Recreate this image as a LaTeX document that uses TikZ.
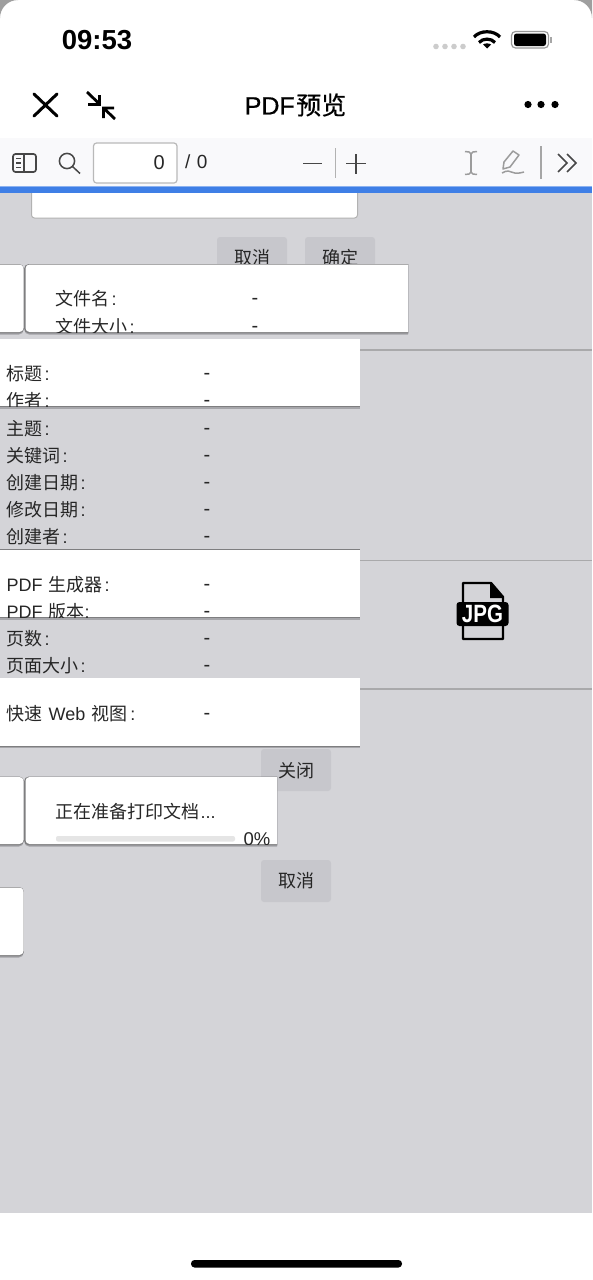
\documentclass[tikz,border=0pt]{standalone}
\usepackage{fontspec}
\setmainfont{Liberation Sans}
\newfontfamily\cjk{Noto Sans CJK SC}
\newfontfamily\cjkmed[FakeBold=0.5]{Noto Sans CJK SC}
\newfontfamily\latmed[FakeBold=0.5]{Liberation Sans}
\usepackage{tikz}
\usetikzlibrary{positioning,calc}
\usepackage{xcolor}
\definecolor{pagegray}{HTML}{D4D4D8}
\definecolor{btngray}{HTML}{C7C7CC}
\definecolor{edgegray}{HTML}{7E7E80}
\definecolor{softedge}{HTML}{A6A6AA}
\definecolor{ruleline}{HTML}{A9A9AB}
\definecolor{barblue}{HTML}{3F7FE6}
\definecolor{toolbg}{HTML}{F9F9FB}
\definecolor{inkdark}{HTML}{262626}
\definecolor{icongray}{HTML}{9C9C9C}
\newcommand{\colonmark}{\hspace{2pt}:}

\begin{document}
\begin{tikzpicture}[x=1pt, y=-1pt,
  rowtext/.style={anchor=west, inner sep=0pt, text=inkdark, font=\fontsize{18}{22}\selectfont},
  midtext/.style={inner sep=0pt, text=inkdark, font=\fontsize{18}{22}\selectfont},
  dashtext/.style={inner sep=0pt, yshift=-3.5pt, text=inkdark, font=\fontsize{20}{22}\selectfont},
  card/.style={fill=white,
    preaction={fill=softedge, draw=softedge, line width=1pt, transform canvas={xshift=-0.5pt, yshift=-2pt}},
    preaction={fill=edgegray, draw=edgegray, line width=1.8pt, transform canvas={xshift=-0.5pt, yshift=-0.4pt}}},
  btn/.style={fill=btngray, rounded corners=3pt},
  ruleln/.style={draw=ruleline, line width=1.2pt},
  darkicon/.style={draw=inkdark, line width=1.7pt},
  grayicon/.style={draw=icongray, line width=1.5pt}]

\useasboundingbox (0,0) rectangle (592,1280);

% Page layers
\fill[white] (0,0) rectangle (592,1280);
\fill[gray!75] (0,0) -- (18,0) .. controls (8,0) and (0,8) .. (0,18) -- cycle;
\fill[gray!75] (592,0) -- (574,0) .. controls (584,0) and (592,8) .. (592,18) -- cycle;
\fill[toolbg] (0,138) rectangle (592,187);
\fill[pagegray] (0,193) rectangle (592,1213);
\draw[fill=white, draw=gray!60, line width=1pt, rounded corners=3pt] (31.5,189) rectangle (357.5,218);
\fill[barblue!60!white] (0,186) rectangle (592,188);
\fill[barblue] (0,187) rectangle (592,193);

% Status bar
\node[inner sep=0pt, font=\fontsize{27.5}{30}\selectfont, text=black] (clock) at (97,40.2) {\textbf{09:53}};
\fill[gray!40] (436,46.5) circle (2.8pt) (445,46.5) circle (2.8pt) (454,46.5) circle (2.8pt) (463,46.5) circle (2.8pt);
\draw[black, line width=3.2pt] (474,37) .. controls (480,30) and (494,30) .. (500,37);
\draw[black, line width=3.2pt] (479,42.5) .. controls (483,38) and (491,38) .. (495,42.5);
\fill[black] (483,44.5) .. controls (485,43) and (489,43) .. (491,44.5) -- (487,48.5) -- cycle;
\draw[gray!80, line width=1.2pt, rounded corners=4pt] (511.5,31.5) rectangle (548.5,48);
\fill[black, rounded corners=2.5pt] (514,33.5) rectangle (546,46);
\fill[gray!70] (550,37) rectangle (552,42.5);

% Title bar
\draw[black, line width=3pt, line cap=round] (34,94) -- (57,116) (57,94) -- (34,116);
\draw[black, line width=2.8pt] (87,92) -- (99.5,104) (99.5,95) -- (99.5,104.5) -- (88,104.5);
\draw[black, line width=2.8pt] (115,119) -- (104,108.5) (103.5,118) -- (103.5,108) -- (114,108);
\node[inner sep=0pt, font=\fontsize{25}{30}\selectfont, text=black] (title) at (295.5,105) {{\latmed PDF}\hspace{1.5pt}{\cjkmed 预览}};
\fill[black] (528,104.5) circle (3.6pt) (541,104.5) circle (3.6pt) (555,104.5) circle (3.6pt);

% Toolbar
\draw[darkicon, rounded corners=2.5pt, draw=inkdark!85] (13,154) rectangle (36,172);
\draw[draw=inkdark!85, line width=1.5pt] (24,154) -- (24,172) (16,158.5) -- (21,158.5) (16,163) -- (21,163) (16,167.5) -- (21,167.5);
\draw[draw=inkdark!85, line width=1.5pt] (67,161) circle (7.6pt) (72.5,166.5) -- (80,173.5);
\draw[draw=gray!55, fill=white, line width=1.2pt, rounded corners=3pt] (93.5,143) rectangle (177,183);
\node[anchor=east, inner sep=0pt, text=inkdark, font=\fontsize{20}{24}\selectfont] (pagenum) at (165,163) {0};
\node[anchor=west, inner sep=0pt, text=inkdark, font=\fontsize{19}{22}\selectfont] (pagetotal) at (185,162) {/\hspace{1pt} 0};
\draw[draw=inkdark!85, line width=1.8pt] (303,163.5) -- (322,163.5) (346,163.5) -- (366,163.5) (356,154) -- (356,174);
\draw[draw=gray!60, line width=1pt] (335,148) -- (335,178);
\draw[grayicon] (471,153) -- (471,173);
\draw[grayicon] (465,151.5) .. controls (468,151.5) and (471,152) .. (471,154) .. controls (471,152) and (474,151.5) .. (477,151.5);
\draw[grayicon] (465,174.5) .. controls (468,174.5) and (471,174) .. (471,172) .. controls (471,174) and (474,174.5) .. (477,174.5);
\draw[grayicon, line join=round] (503,169) -- (504,162) -- (513,151) -- (519,155) -- (510,167) -- cycle;
\draw[grayicon] (502,173) .. controls (507,170) and (510,171) .. (513,172.5) .. controls (516,174) and (520,173) .. (524,172);
\draw[draw=gray!70, line width=1.5pt] (541,146) -- (541,179);
\draw[darkicon, draw=inkdark!85] (558,154) -- (567,163) -- (558,172) (567,154) -- (576,163) -- (567,172);

% Buttons behind
\fill[btn] (217,237) rectangle (287,279);
\fill[btn] (305,237) rectangle (375,279);
\node[midtext] (cancelone) at (252,258) {\cjk 取消};
\node[midtext] (okone) at (340,258) {\cjk 确定};
\fill[btn] (261,749) rectangle (331,791);
\node[midtext] (closeone) at (296,770.5) {\cjk 关闭};
\fill[btn] (261,860) rectangle (331,902);
\node[midtext] (canceltwo) at (296,881) {\cjk 取消};

% Rules
\draw[ruleln] (0,350) -- (592,350);
\draw[ruleln] (0,560.5) -- (592,560.5);
\draw[ruleln] (0,689) -- (592,689);

% Property rows
\node[rowtext] (subject) at (6.5,429) {{\cjk 主题}\colonmark};
\node[dashtext] (subjectval) at (207,428) {-};
\node[rowtext] (keywords) at (6.5,456) {{\cjk 关键词}\colonmark};
\node[dashtext] (keywordsval) at (207,455) {-};
\node[rowtext] (created) at (6.5,483) {{\cjk 创建日期}\colonmark};
\node[dashtext] (createdval) at (207,482) {-};
\node[rowtext] (modified) at (6.5,510) {{\cjk 修改日期}\colonmark};
\node[dashtext] (modifiedval) at (207,509) {-};
\node[rowtext] (creator) at (6.5,537) {{\cjk 创建者}\colonmark};
\node[dashtext] (creatorval) at (207,536) {-};
\node[rowtext] (pages) at (6.5,639) {{\cjk 页数}\colonmark};
\node[dashtext] (pagesval) at (207,638) {-};
\node[rowtext] (pagesize) at (6.5,666) {{\cjk 页面大小}\colonmark};
\node[dashtext] (pagesizeval) at (207,665) {-};

% File card
\path[card] (0,264.5) [rounded corners=4pt] -- (23.5,264.5) -- (23.5,332) [sharp corners] -- (0,332) -- cycle;
\path[card] (408,264.5) [rounded corners=4pt] -- (25.5,264.5) -- (25.5,332) [sharp corners] -- (408,332) -- cycle;
\begin{scope}
\clip (25,264) rectangle (408,332);
\node[rowtext] (filename) at (55.5,299) {{\cjk 文件名}\colonmark};
\node[dashtext] (filenameval) at (255,298) {-};
\node[rowtext] (filesize) at (55.5,327) {{\cjk 文件大小}\colonmark};
\node[dashtext] (filesizeval) at (255,326) {-};
\end{scope}

% Title card
\path[card] (0,339) rectangle (360,406);
\begin{scope}
\clip (0,339) rectangle (360,406);
\node[rowtext] (doctitle) at (6.5,374) {{\cjk 标题}\colonmark};
\node[dashtext] (doctitleval) at (207,373) {-};
\node[rowtext] (author) at (6.5,401) {{\cjk 作者}\colonmark};
\node[dashtext] (authorval) at (207,400) {-};
\end{scope}

% Producer card
\path[card] (0,549.5) rectangle (360,617);
\begin{scope}
\clip (0,549.5) rectangle (360,617);
\node[rowtext] (producer) at (6.5,585) {PDF\hspace{1pt} {\cjk 生成器}\colonmark};
\node[dashtext] (producerval) at (207,584) {-};
\node[rowtext] (version) at (6.5,612) {PDF\hspace{1pt} {\cjk 版本}:};
\node[dashtext] (versionval) at (207,611) {-};
\end{scope}

% Web view card
\path[card] (0,678) rectangle (360,745.5);
\node[rowtext] (webview) at (6.5,714) {{\cjk 快速}\hspace{1pt} Web\hspace{1pt} {\cjk 视图}\hspace{1pt}\colonmark};
\node[dashtext] (webviewval) at (207,713) {-};

% Print card
\path[card] (0,777) [rounded corners=4pt] -- (23.5,777) -- (23.5,844) [sharp corners] -- (0,844) -- cycle;
\path[card] (277,777) [rounded corners=4pt] -- (25.5,777) -- (25.5,844) [sharp corners] -- (277,844) -- cycle;
\node[rowtext] (printing) at (55.5,812) {{\cjk 正在准备打印文档}\hspace{1pt}...};
\fill[gray!20, rounded corners=2pt] (56,836) rectangle (235,841.5);
\begin{scope}
\clip (25,777) rectangle (277,844);
\node[anchor=east, inner sep=0pt, text=inkdark, font=\fontsize{18.5}{22}\selectfont] (percent) at (270.5,839) {0\%};
\end{scope}
\path[card] (0,887.5) [rounded corners=4pt] -- (23.5,887.5) -- (23.5,955) [sharp corners] -- (0,955) -- cycle;

% JPG icon
\draw[black, line width=2.4pt, line join=round] (463,583) -- (491,583) -- (503,597) -- (503,639) -- (463,639) -- cycle;
\fill[black] (490,582) -- (504,598) -- (490,598) -- cycle;
\fill[black, rounded corners=3pt] (456.5,602) rectangle (508.5,626);
\node[inner sep=0pt, xscale=0.82, text=white, font=\fontsize{25}{28}\selectfont] (jpglabel) at (482.5,614) {\textbf{JPG}};

% Home indicator
\fill[black, rounded corners=3.5pt] (191,1260) rectangle (402,1267.5);

\end{tikzpicture}
\end{document}
